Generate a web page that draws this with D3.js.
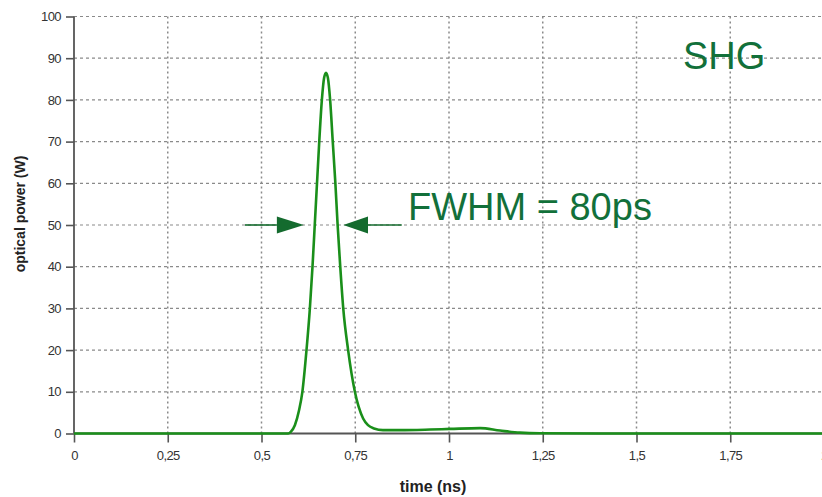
<!DOCTYPE html>
<html>
<head>
<meta charset="utf-8">
<script src="https://cdn.jsdelivr.net/npm/d3@7"></script>
<style>
  html, body { margin: 0; padding: 0; background: #fff; overflow: hidden; }
  svg { display: block; font-family: "Liberation Sans", Arial, sans-serif; }
</style>
</head>
<body>
<svg id="chart" width="822" height="497"></svg>
<script>
// ---- data ----
const timeNs = [0, 0.55, 0.571, 0.578, 0.589, 0.600, 0.609, 0.620, 0.629, 0.636, 0.642, 0.648, 0.654, 0.661, 0.667, 0.672, 0.677, 0.683, 0.690, 0.697, 0.703, 0.710, 0.718, 0.731, 0.749, 0.771, 0.784, 0.80, 0.824, 0.869, 0.95, 1.003, 1.083, 1.136, 1.189, 1.243, 1.4, 2.0];
const powerW = [0, 0, 0, 0.4, 2, 5.5, 10, 20, 30, 40, 50, 60, 70, 80, 85.3, 86.5, 85.3, 80, 70, 60, 50, 40, 30, 20, 10, 3.6, 2, 1.2, 0.8, 0.8, 0.95, 1.1, 1.3, 0.7, 0.2, 0.05, 0, 0];
const xTicks = [0, 0.25, 0.5, 0.75, 1, 1.25, 1.5, 1.75, 2];
const xTickLabels = ["0", "0,25", "0,5", "0,75", "1", "1,25", "1,5", "1,75", "2"];
const yTicks = [0, 10, 20, 30, 40, 50, 60, 70, 80, 90, 100];
const fwhmLevel = 50;
const leftArrow = [0.456, 0.541, 0.613];   // line start, head base, tip (ns)
const rightArrow = [0.874, 0.784, 0.718];  // line start, head base, tip (ns)
const labels = { x: "time (ns)", y: "optical power (W)", fwhm: "FWHM = 80ps", title: "SHG" };

// ---- scales ----
const svg = d3.select("#chart");
const x = d3.scaleLinear().domain([0, 2]).range([74, 824]);
const y = d3.scaleLinear().domain([0, 100]).range([433.5, 16.5]);

// grid
svg.append("g").selectAll("line").data(yTicks.filter(d => d > 0)).join("line")
  .attr("x1", x(0)).attr("x2", x(2)).attr("y1", d => y(d)).attr("y2", d => y(d))
  .attr("stroke", "#8a8a8a").attr("stroke-width", 1.2).attr("stroke-dasharray", "3,3");
svg.append("g").selectAll("line").data(xTicks.filter(d => d > 0)).join("line")
  .attr("x1", d => x(d)).attr("x2", d => x(d)).attr("y1", y(100)).attr("y2", y(0))
  .attr("stroke", "#8a8a8a").attr("stroke-width", 1.5).attr("stroke-dasharray", "2,3");

// axes
const yAxis = d3.axisLeft(y).tickValues(yTicks).tickSize(8).tickPadding(5).tickFormat(d3.format("d"));
const gy = svg.append("g").attr("transform", `translate(${x(0)},0)`).call(yAxis);
const xAxis = d3.axisBottom(x).tickValues(xTicks).tickSize(9).tickPadding(8)
  .tickFormat((d, i) => xTickLabels[i]);
const gx = svg.append("g").attr("transform", `translate(0,${y(0)})`).call(xAxis);
[gx, gy].forEach(g => {
  g.select(".domain").attr("stroke", "#555").attr("stroke-width", 1.8);
  g.selectAll(".tick line").attr("stroke", "#555").attr("stroke-width", 1.6);
  g.selectAll(".tick text").attr("fill", "#333").attr("font-size", 13)
    .attr("font-family", "'Liberation Sans', Arial, sans-serif").attr("letter-spacing", "-0.6");
});
gy.select(".domain").attr("d", `M0,${y(100)}V${y(0)}`);
gx.select(".domain").attr("d", `M${x(0)},0H${x(2)}`);

// curve
const pts = timeNs.map((t, i) => [t, powerW[i]]);
const line = d3.line().x(d => x(d[0])).y(d => y(d[1])).curve(d3.curveMonotoneX);
svg.append("path").datum(pts).attr("d", line)
  .attr("fill", "none").attr("stroke", "#1a8f1a").attr("stroke-width", 2.6)
  .attr("stroke-linejoin", "round");

// arrows
const arrowColor = "#146b2e";
function arrow(a) {
  const yy = y(fwhmLevel);
  svg.append("line").attr("x1", x(a[0])).attr("x2", x(a[1])).attr("y1", yy).attr("y2", yy)
    .attr("stroke", arrowColor).attr("stroke-width", 1.6);
  svg.append("path")
    .attr("d", `M${x(a[2])},${yy}L${x(a[1])},${yy - 8.5}L${x(a[1])},${yy + 8.5}Z`)
    .attr("fill", arrowColor);
}
arrow(leftArrow);
arrow(rightArrow);

// texts
svg.append("text").attr("x", 408).attr("y", 220).attr("font-size", 38)
  .attr("fill", "#12703a").text(labels.fwhm);
svg.append("text").attr("x", 683).attr("y", 68.5).attr("font-size", 38)
  .attr("fill", "#12703a").text(labels.title);
svg.append("text").attr("x", 433).attr("y", 492).attr("text-anchor", "middle")
  .attr("font-size", 16).attr("font-weight", "bold").attr("fill", "#222").text(labels.x);
svg.append("text").attr("transform", "translate(24.5,214) rotate(-90)").attr("text-anchor", "middle")
  .attr("font-size", 14).attr("font-weight", "bold").attr("fill", "#222").text(labels.y);
</script>
</body>
</html>
